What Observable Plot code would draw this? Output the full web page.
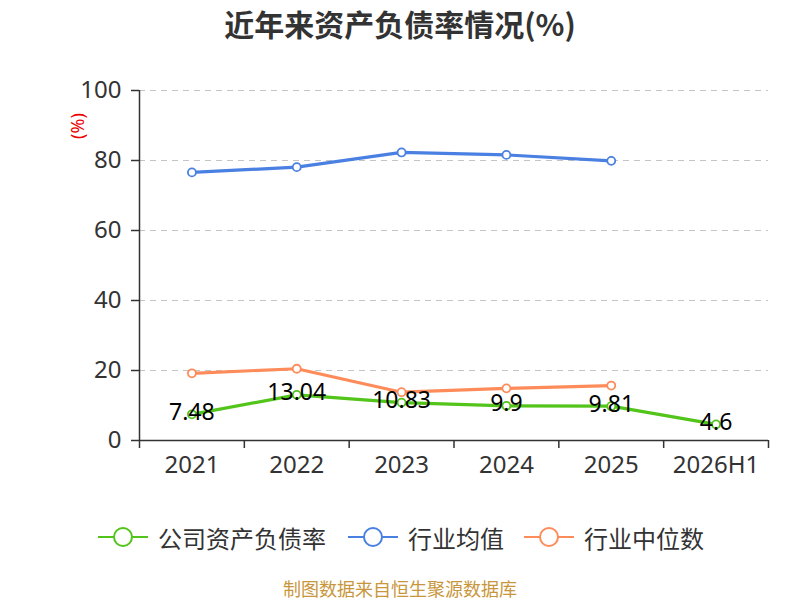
<!DOCTYPE html>
<html>
<head>
<meta charset="utf-8">
<script src="https://cdn.jsdelivr.net/npm/d3@7"></script>
<script src="https://cdn.jsdelivr.net/npm/@observablehq/plot@0.6"></script>
<style>
  html, body { margin: 0; padding: 0; background: #fff; }
  #wrap { position: relative; width: 800px; height: 600px; overflow: hidden;
    font-family: "Noto Sans", "Noto Sans CJK SC", sans-serif; }
  #title { position: absolute; top: 0; left: 0; width: 800px; text-align: center;
    font-size: 30px; font-weight: bold; color: #333; line-height: 46px;
    font-family: "Noto Sans CJK SC", "Noto Sans", sans-serif; }
  #chart { position: absolute; top: 50px; left: 0; }
  #ylab { position: absolute; left: 77px; top: 126px; transform: translate(-50%, -50%) rotate(-90deg);
    color: #e00; font-size: 18px; white-space: nowrap; line-height: 20px; }
  #legend { position: absolute; top: 520px; left: 0; width: 800px; height: 34px; }
  .item { position: absolute; top: 0; height: 34px; display: flex; align-items: center;
    font-size: 24px; color: #333; font-family: "Noto Sans CJK SC", sans-serif; }
  .item svg { margin-right: 10px; }
  #footer { position: absolute; top: 577px; left: 0; width: 800px; text-align: center;
    font-size: 18px; color: #c8963c; font-family: "Noto Sans CJK SC", sans-serif; line-height: 22px; }
</style>
</head>
<body>
<div id="wrap">
  <div id="title">近年来资产负债率情况(%)</div>
  <div id="chart"></div>
  <div id="ylab">(%)</div>
  <div id="legend"></div>
  <div id="footer">制图数据来自恒生聚源数据库</div>
</div>
<script>
const categories = ["2021", "2022", "2023", "2024", "2025", "2026H1"];
const companyRatio = [7.48, 13.04, 10.83, 9.9, 9.81, 4.6];
const industryMean = [76.6, 78.1, 82.3, 81.6, 79.9, null];
const industryMedian = [19.2, 20.5, 13.8, 14.9, 15.7, null];
const yTicks = [0, 20, 40, 60, 80, 100];
const seriesNames = ["公司资产负债率", "行业均值", "行业中位数"];
const colors = ["#52c41a", "#4a80e2", "#fd8c5a"];

const toRows = (vals) => vals.map((v, i) => ({ i, v })).filter(d => d.v != null);
const company = toRows(companyRatio);
const mean = toRows(industryMean);
const median = toRows(industryMedian);
const boundaries = d3.range(categories.length + 1).map(k => k - 0.5);

const chart = Plot.plot({
  width: 800,
  height: 450,
  marginTop: 40,
  marginBottom: 60,
  marginLeft: 139,
  marginRight: 32,
  style: { fontFamily: "'Noto Sans', 'Noto Sans CJK SC', sans-serif", background: "transparent", overflow: "visible" },
  x: { type: "linear", domain: [-0.5, categories.length - 0.5] },
  y: { domain: [0, 100] },
  marks: [
    Plot.gridY(yTicks.filter(t => t > 0), { stroke: "#c4c4c4", strokeOpacity: 1, strokeDasharray: "6,5", strokeWidth: 1.2 }),
    Plot.axisY(yTicks, { tickSize: 8, tickPadding: 10, fontSize: 24, color: "#333", stroke: "#333", strokeWidth: 1.5, label: null }),
    Plot.axisX(boundaries, { tickSize: 8, tickFormat: () => "", stroke: "#333", strokeWidth: 1.5, label: null }),
    Plot.axisX(d3.range(categories.length), { tickSize: 0, tickPadding: 15, fontSize: 24, fill: "#333", tickFormat: i => categories[i], label: null }),
    Plot.ruleX([-0.5], { stroke: "#333", strokeWidth: 1.5 }),
    Plot.ruleY([0], { stroke: "#333", strokeWidth: 1.5 }),
    Plot.line(mean, { x: "i", y: "v", stroke: colors[1], strokeWidth: 3.2 }),
    Plot.line(median, { x: "i", y: "v", stroke: colors[2], strokeWidth: 3.2 }),
    Plot.line(company, { x: "i", y: "v", stroke: colors[0], strokeWidth: 3.2 }),
    Plot.dot(mean, { x: "i", y: "v", r: 4, fill: "white", stroke: colors[1], strokeWidth: 1.8 }),
    Plot.dot(median, { x: "i", y: "v", r: 4, fill: "white", stroke: colors[2], strokeWidth: 1.8 }),
    Plot.dot(company, { x: "i", y: "v", r: 4, fill: "white", stroke: colors[0], strokeWidth: 1.8 }),
    Plot.text(company, { x: "i", y: "v", text: d => String(d.v), fontSize: 23, fill: "#000", dy: -2 })
  ]
});
document.getElementById("chart").appendChild(chart);

// legend
const legendX = [98, 348, 524];
const legend = document.getElementById("legend");
seriesNames.forEach((name, k) => {
  const item = document.createElement("div");
  item.className = "item";
  item.style.left = legendX[k] + "px";
  item.innerHTML = `<svg width="50" height="34"><line x1="0" y1="17" x2="50" y2="17" stroke="${colors[k]}" stroke-width="2"/><circle cx="25" cy="17" r="9" fill="white" stroke="${colors[k]}" stroke-width="2"/></svg><span>${name}</span>`;
  legend.appendChild(item);
});
</script>
</body>
</html>
